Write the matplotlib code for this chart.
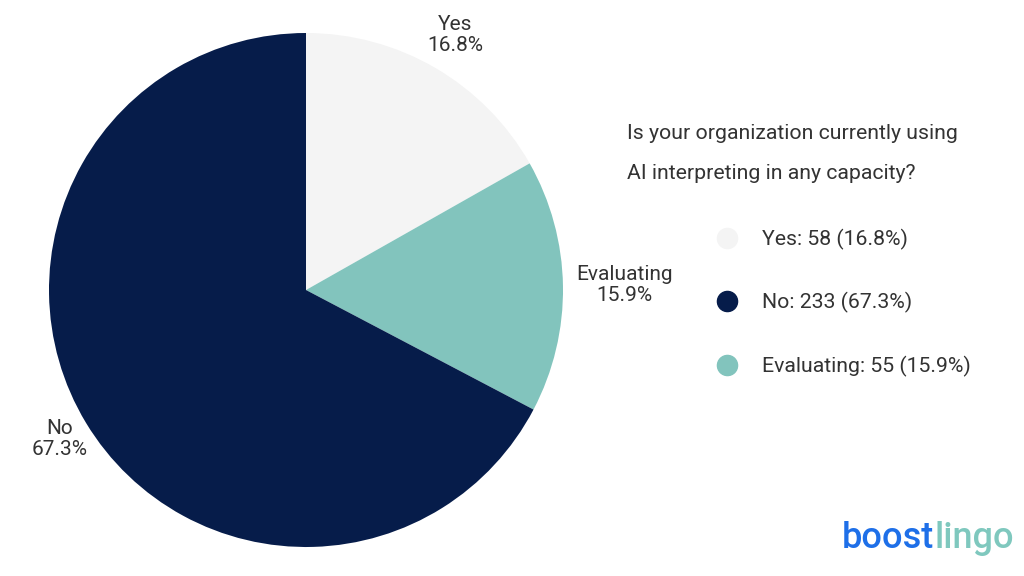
import matplotlib.pyplot as plt
from matplotlib.lines import Line2D
import numpy as np

plt.rcParams['font.family'] = ['Roboto', 'DejaVu Sans']

# datos de la encuesta
categorias = ["Yes", "Evaluating", "No"]
conteos = [58, 55, 233]
porcentajes = [16.8, 15.9, 67.3]
colores = ["#F4F4F4", "#82C4BD", "#061C4A"]
orden_leyenda = ["Yes", "No", "Evaluating"]
titulo = "Is your organization currently using\nAI interpreting in any capacity?"

texto = "#333333"
# distancia de cada etiqueta al centro (en radios)
distancias = [1.15, 1.24, 1.12]

fig = plt.figure(figsize=(10.24, 5.76), dpi=100)
ax = fig.add_axes([49/1024, 29/576, 514/1024, 514/576])

etiquetas = [f"{c}\n{p}%" for c, p in zip(categorias, porcentajes)]
wedges, textos = ax.pie(porcentajes, labels=etiquetas, colors=colores,
                        startangle=90, counterclock=False, labeldistance=1.0,
                        textprops=dict(fontsize=15, color=texto))
# reubico las etiquetas segun el angulo medio de cada porcion
for w, t, d in zip(wedges, textos, distancias):
    ang = np.deg2rad((w.theta1 + w.theta2) / 2)
    t.set_position((d * np.cos(ang), d * np.sin(ang)))
    t.set_horizontalalignment("center")
    t.set_verticalalignment("center")
    t.set_multialignment("center")
    t.set_linespacing(1.15)
ax.set_xlim(-1, 1)
ax.set_ylim(-1, 1)
ax.set_aspect("equal")

# titulo de la leyenda
fig.text(627/1024, 1 - 124/576, titulo, fontsize=15.3, color=texto,
         ha="left", va="top", linespacing=2.4)

# leyenda con circulos
handles = []
etiquetas_leyenda = []
for nombre in orden_leyenda:
    i = categorias.index(nombre)
    handles.append(Line2D([], [], marker="o", linestyle="", markersize=14.5,
                          markerfacecolor=colores[i], markeredgecolor=colores[i]))
    etiquetas_leyenda.append(f"{nombre}: {conteos[i]} ({porcentajes[i]}%)")
fig.legend(handles, etiquetas_leyenda, loc="upper left",
           bbox_to_anchor=(706/1024, 1 - 218/576), frameon=False,
           fontsize=15.3, labelcolor=texto, labelspacing=2.0,
           handlelength=1.0, handletextpad=1.15, borderpad=0)

# logo
boost = fig.text(842/1024, 1 - 548/576, "boost", fontsize=26, color="#1E6FE8",
                 fontweight="medium", ha="left", va="baseline")
ax.annotate("lingo", xy=(1, 0), xycoords=boost, fontsize=26, color="#7FC8BE",
            fontweight="medium", ha="left", va="bottom")

fig.savefig("out.png", dpi=100)
